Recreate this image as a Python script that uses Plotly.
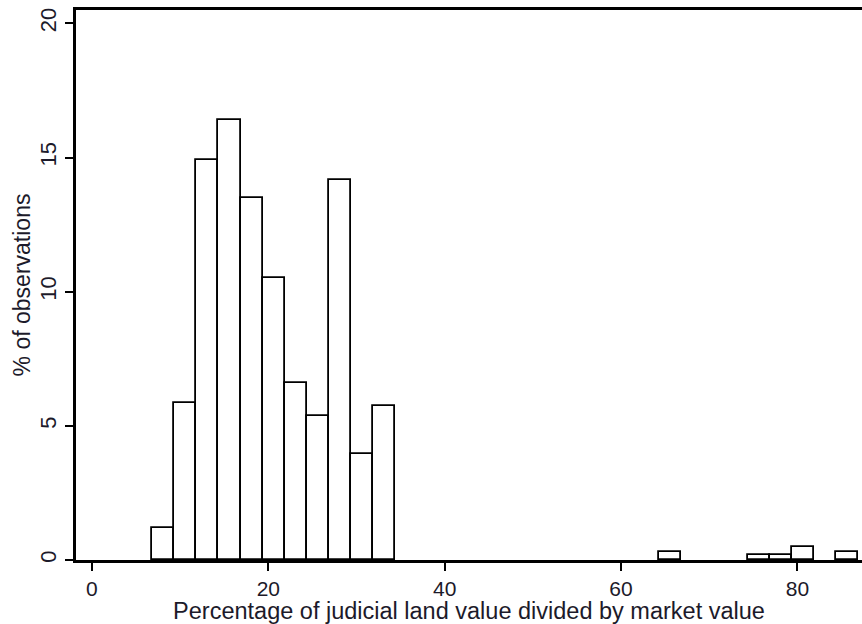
import plotly.graph_objects as go

# Histogram: judicial land value as % of market value
bin_width = 2.5
bin_left_edges = [6.85, 9.35, 11.85, 14.35, 16.85, 19.35, 21.85, 24.35, 26.85, 29.35, 31.85,
                  64.35, 74.35, 76.85, 79.35, 84.35]
pct_obs = [1.2, 5.85, 14.9, 16.4, 13.5, 10.5, 6.6, 5.35, 14.15, 3.95, 5.75,
           0.3, 0.17, 0.17, 0.48, 0.3]

x_ticks = [0, 20, 40, 60, 80]
y_ticks = [0, 5, 10, 15, 20]

centers = [e + bin_width / 2 for e in bin_left_edges]

font_family = "Liberation Sans, Arial, sans-serif"
text_color = "#1c1a2a"

fig = go.Figure(
    go.Bar(
        x=centers,
        y=pct_obs,
        width=bin_width,
        marker=dict(color="white", line=dict(color="black", width=1.8)),
        hoverinfo="x+y",
    )
)

fig.update_layout(
    width=862,
    height=624,
    margin=dict(l=76, r=0, t=10, b=64),
    paper_bgcolor="white",
    plot_bgcolor="white",
    showlegend=False,
    bargap=0,
    font=dict(family=font_family, color=text_color, size=23),
)

fig.update_xaxes(
    range=[-1.81, 87.33],
    tickvals=x_ticks,
    ticks="outside",
    ticklen=8,
    tickwidth=2,
    tickcolor="black",
    showline=True,
    linecolor="black",
    linewidth=2.5,
    mirror=True,
    showgrid=False,
    zeroline=False,
    tickfont=dict(size=21),
    title=dict(text="Percentage of judicial land value divided by market value",
               font=dict(size=23.5), standoff=6),
)

fig.update_yaxes(
    range=[0, 20.5],
    tickvals=y_ticks,
    ticks="outside",
    ticklen=8,
    tickwidth=2,
    tickcolor="black",
    tickangle=-90,
    showline=True,
    linecolor="black",
    linewidth=2.5,
    showgrid=False,
    zeroline=False,
    tickfont=dict(size=22),
    title=dict(text="% of observations", font=dict(size=23), standoff=0),
)

fig.write_html("out.html")
